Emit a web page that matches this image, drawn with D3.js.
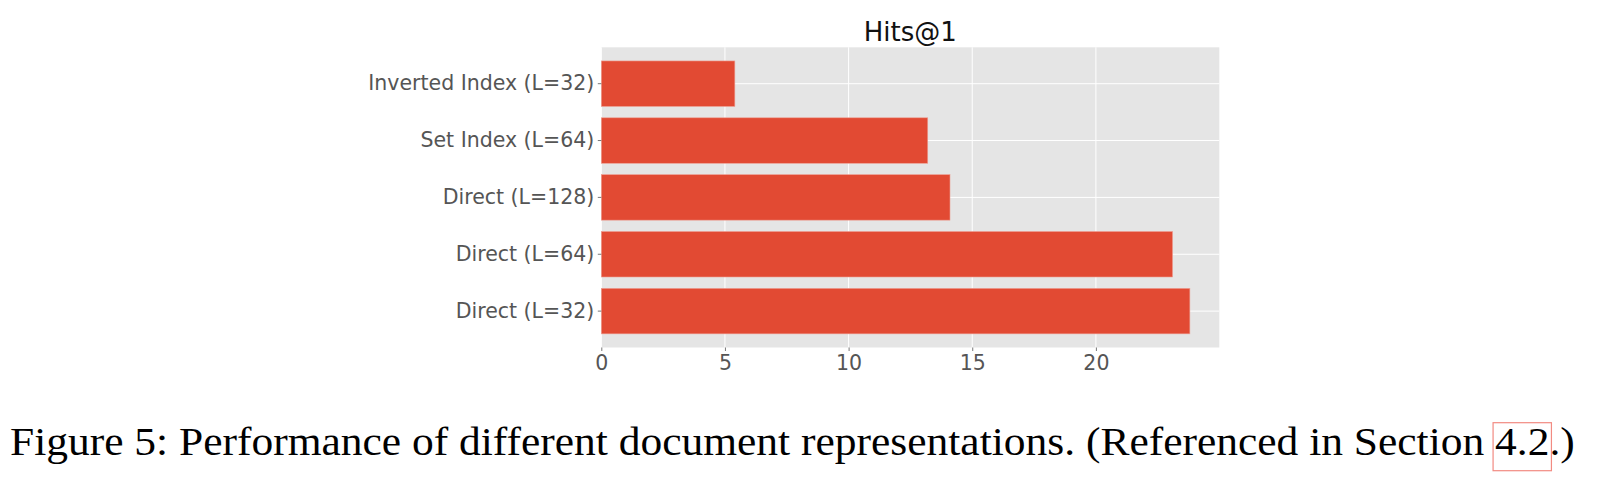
<!DOCTYPE html>
<html>
<head>
<meta charset="utf-8">
<script src="https://cdn.jsdelivr.net/npm/d3@7"></script>
<style>
  body { margin: 0; background: #fff; }
  svg { display: block; }
</style>
</head>
<body>
<div id="chart"></div>
<script>
// Data (top to bottom, as drawn)
var methods = ["Inverted Index (L=32)", "Set Index (L=64)", "Direct (L=128)", "Direct (L=64)", "Direct (L=32)"];
var hits1 = [5.4, 13.2, 14.1, 23.1, 23.8];
var xTicks = [0, 5, 10, 15, 20];
var chartTitle = "Hits@1";
var captionText = "Figure 5: Performance of different document representations. (Referenced in Section 4.2.)";
var linkText = "4.2";

var svgWidth = 1604;
var svgHeight = 480;

var margin = { top: 47.3, left: 601.3 };
var width = 618;
var height = 300.2;

var svg = d3.select("#chart")
  .append("svg")
  .attr("width", svgWidth)
  .attr("height", svgHeight);

var chartGroup = svg.append("g")
  .attr("transform", `translate(${margin.left}, ${margin.top})`);

// Scales: matplotlib-ish, 5% headroom on x, 0.8 bar height
var xScale = d3.scaleLinear()
  .domain([0, d3.max(hits1) * 1.05])
  .range([0, width]);

var yScale = d3.scaleBand()
  .domain(methods)
  .range([0, height])
  .paddingInner(0.2)
  .paddingOuter(0.24);

// background
chartGroup.append("rect")
  .attr("width", width)
  .attr("height", height)
  .attr("fill", "#e5e5e5");

// grid lines
chartGroup.selectAll("line.vgrid")
  .data(xTicks)
  .enter()
  .append("line")
  .attr("class", "vgrid")
  .attr("x1", d => xScale(d))
  .attr("x2", d => xScale(d))
  .attr("y1", 0)
  .attr("y2", height)
  .attr("stroke", "#fff")
  .attr("stroke-width", 1);

chartGroup.selectAll("line.hgrid")
  .data(methods)
  .enter()
  .append("line")
  .attr("class", "hgrid")
  .attr("x1", 0)
  .attr("x2", width)
  .attr("y1", d => yScale(d) + yScale.bandwidth() / 2)
  .attr("y2", d => yScale(d) + yScale.bandwidth() / 2)
  .attr("stroke", "#fff")
  .attr("stroke-width", 1);

// bars
chartGroup.selectAll("rect.bar")
  .data(methods)
  .enter()
  .append("rect")
  .attr("class", "bar")
  .attr("x", 0)
  .attr("y", d => yScale(d))
  .attr("width", (d, i) => xScale(hits1[i]))
  .attr("height", yScale.bandwidth())
  .attr("fill", "#e24a33")
  .attr("stroke", "#ee9e92")
  .attr("stroke-width", 0.6);

// axes
var bottomAxis = d3.axisBottom(xScale)
  .tickValues(xTicks)
  .tickSize(3.5)
  .tickPadding(4);
var leftAxis = d3.axisLeft(yScale)
  .tickSize(3.5)
  .tickPadding(3.5);

var xAxisGroup = chartGroup.append("g")
  .attr("transform", `translate(0, ${height})`)
  .call(bottomAxis);
var yAxisGroup = chartGroup.append("g")
  .call(leftAxis);

[xAxisGroup, yAxisGroup].forEach(function(g) {
  g.select(".domain").remove();
  g.selectAll(".tick line").attr("stroke", "#555").attr("stroke-width", 0.8);
  g.selectAll(".tick text")
    .attr("fill", "#555")
    .style("font-family", "'DejaVu Sans', sans-serif")
    .style("font-size", "20.5px");
});
xAxisGroup.selectAll(".tick text").attr("dy", "0.71em");

// title
chartGroup.append("text")
  .attr("x", width / 2)
  .attr("y", 41 - margin.top)
  .attr("text-anchor", "middle")
  .style("font-family", "'DejaVu Sans', sans-serif")
  .style("font-size", "26px")
  .attr("fill", "#111")
  .text(chartTitle);

// caption: taller glyphs than Liberation Serif at this width, so squeeze it horizontally
var captionGroup = svg.append("g");
var caption = captionGroup.append("text")
  .attr("x", 0)
  .attr("y", 455)
  .style("font-family", "'Liberation Serif', 'Times New Roman', serif")
  .style("font-size", "41px")
  .attr("fill", "#000")
  .text(captionText);

var measured = caption.node().getComputedTextLength();
var sx = 1565 / measured;
captionGroup.attr("transform", `translate(10, 0) scale(${sx}, 1)`);

// red link box around the section number
var start = captionText.lastIndexOf(linkText);
var node = caption.node();
var x0 = 10 + sx * node.getStartPositionOfChar(start).x;
var x1 = 10 + sx * node.getEndPositionOfChar(start + linkText.length - 1).x;
svg.append("rect")
  .attr("x", x0 - 2)
  .attr("y", 422.7)
  .attr("width", x1 - x0 + 4)
  .attr("height", 48)
  .attr("fill", "none")
  .attr("stroke", "#f28b82")
  .attr("stroke-width", 1.2);
</script>
</body>
</html>
